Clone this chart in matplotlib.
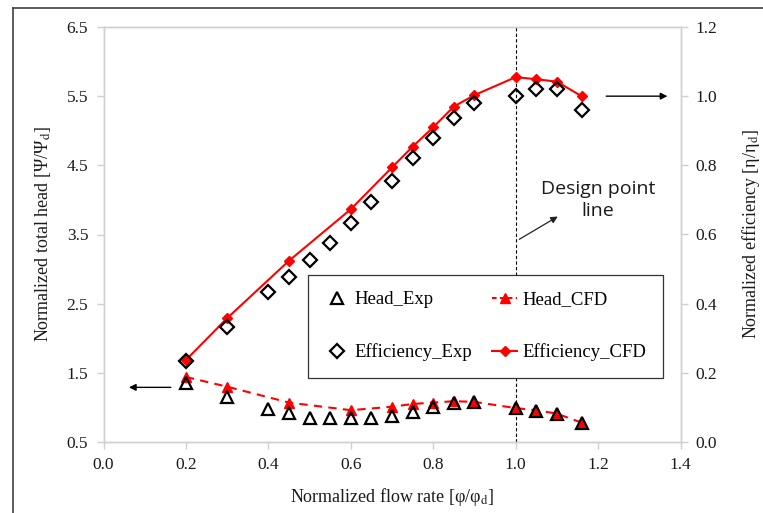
import matplotlib
matplotlib.use("Agg")
import matplotlib.pyplot as plt
from matplotlib.lines import Line2D

# ---- data ----
x_exp = [0.2, 0.3, 0.4, 0.45, 0.5, 0.55, 0.6, 0.65, 0.7, 0.75, 0.8, 0.85, 0.9, 1.0, 1.05, 1.1, 1.16]
head_exp = [1.36, 1.15, 0.97, 0.915, 0.85, 0.84, 0.84, 0.85, 0.875, 0.94, 1.01, 1.07, 1.08, 0.99, 0.95, 0.905, 0.78]
eff_exp = [0.235, 0.333, 0.435, 0.476, 0.526, 0.575, 0.632, 0.695, 0.756, 0.820, 0.880, 0.936, 0.981, 1.0, 1.020, 1.020, 0.960]

x_cfd = [0.2, 0.3, 0.45, 0.6, 0.7, 0.75, 0.8, 0.85, 0.9, 1.0, 1.05, 1.1, 1.16]
head_cfd = [1.44, 1.30, 1.07, 0.96, 1.01, 1.05, 1.07, 1.09, 1.08, 0.99, 0.96, 0.91, 0.78]
eff_cfd = [0.237, 0.358, 0.524, 0.673, 0.794, 0.854, 0.910, 0.970, 1.003, 1.055, 1.049, 1.042, 1.0]

x_ticks = [0.0, 0.2, 0.4, 0.6, 0.8, 1.0, 1.2, 1.4]
head_ticks = [0.5, 1.5, 2.5, 3.5, 4.5, 5.5, 6.5]
eff_ticks = [0.0, 0.2, 0.4, 0.6, 0.8, 1.0, 1.2]
design_point = 1.0

serif = ["Liberation Serif", "DejaVu Serif"]
plt.rcParams["font.family"] = serif
plt.rcParams["mathtext.fontset"] = "stix"

fig = plt.figure(figsize=(7.63, 5.13), dpi=100)
ax = fig.add_axes([103.5 / 763, 1 - 442 / 513, (680.5 - 103.5) / 763, (442 - 27) / 513])
ax2 = ax.twinx()

spine_c = "#d0d0d0"
for a in (ax, ax2):
    for s in a.spines.values():
        s.set_color(spine_c)
        s.set_linewidth(1.0)
    a.tick_params(colors=spine_c, labelcolor="#1a1a1a", labelsize=12.5, length=5, width=1.0)

ax.set_xlim(0.0, 1.4)
ax.set_ylim(0.5, 6.5)
ax2.set_ylim(0.0, 1.2)
ax.set_xticks(x_ticks)
ax.set_xticklabels([f"{v:.1f}" for v in x_ticks])
ax.set_yticks(head_ticks)
ax.set_yticklabels([f"{v:.1f}" for v in head_ticks])
ax2.set_yticks(eff_ticks)
ax2.set_yticklabels([f"{v:.1f}" for v in eff_ticks])
ax.tick_params(axis="x", pad=6)
ax.tick_params(axis="y", pad=6)
ax2.tick_params(axis="y", pad=6)

# design point line
ax.axvline(design_point, color="black", linestyle=(0, (3, 2)), linewidth=0.8, zorder=1)

# series
l_hc, = ax.plot(x_cfd, head_cfd, color="red", linestyle=(0, (4, 3)), linewidth=1.5,
                marker="^", markersize=7, markerfacecolor="red", markeredgecolor="red",
                label="Head_CFD", zorder=3)
l_he, = ax.plot(x_exp, head_exp, linestyle="none", marker="^", markersize=9,
                markerfacecolor="none", markeredgecolor="black", markeredgewidth=1.6,
                label="Head_Exp", zorder=4)
l_ec, = ax2.plot(x_cfd, eff_cfd, color="red", linewidth=1.5, marker="D", markersize=5,
                 markerfacecolor="red", markeredgecolor="red", label="Efficiency_CFD", zorder=3)
l_ee, = ax2.plot(x_exp, eff_exp, linestyle="none", marker="D", markersize=7,
                 markerfacecolor="none", markeredgecolor="black", markeredgewidth=1.6,
                 label="Efficiency_Exp", zorder=4)

# legend proxy for dashed head CFD (shorter dashes so they show in the short handle)
h_hc = Line2D([], [], color="red", linestyle=(0, (2.2, 1.6)), linewidth=1.5,
              marker="^", markersize=7, markerfacecolor="red", markeredgecolor="red",
              label="Head_CFD")

# labels
ax.set_xlabel(r"Normalized flow rate [φ/φ$_{\mathrm{d}}$]", fontsize=13, color="#1a1a1a", labelpad=9)
ax.set_ylabel(r"Normalized total head [Ψ/Ψ$_{\mathrm{d}}$]", fontsize=13, color="#1a1a1a", labelpad=10)
ax2.set_ylabel(r"Normalized efficiency [η/η$_{\mathrm{d}}$]", fontsize=13, color="#1a1a1a", labelpad=16)

# annotations
ax.annotate("", xy=(0.055, 1.29), xytext=(0.17, 1.29),
            arrowprops=dict(arrowstyle="-|>", color="black", lw=1.0, mutation_scale=10))
ax2.annotate("", xy=(1.375, 1.0), xytext=(1.213, 1.0),
             arrowprops=dict(arrowstyle="-|>", color="black", lw=1.0, mutation_scale=10))
ax.annotate("", xy=(1.108, 3.78), xytext=(1.003, 3.41),
            arrowprops=dict(arrowstyle="-|>", color="#222222", lw=0.9, mutation_scale=10))
ax.text(1.2, 4.0, "Design point\nline", ha="center", va="center", fontsize=14,
        family=["Open Sans", "DejaVu Sans"], color="#1a1a1a", linespacing=1.25)

# legend
leg = ax2.legend(handles=[l_he, l_ee, h_hc, l_ec], ncol=2, loc="upper left",
                 bbox_to_anchor=((308 - 103.5) / 577, (442 - 274.5) / 415),
                 fontsize=13.5, frameon=True, fancybox=False, framealpha=1,
                 edgecolor="#333333", labelspacing=1.85, handlelength=1.3,
                 handletextpad=0.3, columnspacing=1.05, borderpad=0.9, borderaxespad=0)
leg.get_frame().set_linewidth(0.9)
leg.set_zorder(10)

# figure frame (top and left)
fig.add_artist(Line2D([13 / 763, 13 / 763], [0, 1 - 8 / 513], transform=fig.transFigure,
                      color="#404040", linewidth=1.2))
fig.add_artist(Line2D([13 / 763, 1], [1 - 8 / 513, 1 - 8 / 513], transform=fig.transFigure,
                      color="#404040", linewidth=1.2))

fig.savefig("out.png", dpi=100)
